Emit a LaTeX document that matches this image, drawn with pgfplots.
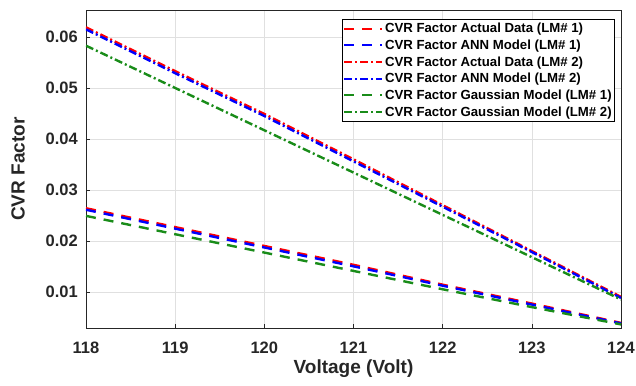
\documentclass[border=0pt]{standalone}
\usepackage{pgfplots}
\pgfplotsset{compat=1.18}
\usepackage{fontspec}
\setmainfont{Liberation Sans}
\definecolor{axgray}{rgb}{0.15,0.15,0.15}
\definecolor{gridgray}{rgb}{0.88,0.88,0.88}
\definecolor{mgreen}{rgb}{0.1,0.55,0.1}
\begin{document}
\begin{tikzpicture}
\path[use as bounding box] (-86pt,-57pt) rectangle (550pt,328pt);
\begin{axis}[
  scale only axis,
  width=535pt, height=318pt,
  xmin=118, xmax=124, ymin=0.0029, ymax=0.0653,
  xtick={118,119,120,121,122,123,124},
  ytick={0.01,0.02,0.03,0.04,0.05,0.06},
  grid=major,
  major grid style={gridgray, line width=0.6pt},
  axis line style={axgray, line width=0.8pt},
  tick style={axgray, line width=0.6pt},
  tick align=inside,
  xtick pos=bottom, ytick pos=left,
  major tick length=4pt,
  /pgf/number format/assume math mode=true,
  yticklabel={\pgfmathprintnumber[fixed, fixed zerofill, precision=2]{\tick}},
  xticklabel={\pgfmathprintnumber[fixed, precision=0]{\tick}},
  ticklabel style={font=\bfseries\fontsize{16.5}{18}\selectfont, text=axgray, inner sep=0pt},
  xticklabel style={yshift=-14pt},
  yticklabel style={xshift=-8pt},
  scaled y ticks=false,
  xlabel={Voltage (Volt)},
  ylabel={CVR Factor},
  label style={font=\bfseries\fontsize{19}{21}\selectfont, text=axgray, inner sep=0pt},
  xlabel style={at={(axis description cs:0.5,0)}, anchor=north, yshift=-31.5pt},
  ylabel style={at={(axis description cs:0,0.5)}, anchor=center, yshift=68pt},
  legend style={at={(axis description cs:0.9888,0.972)}, anchor=north east,
    font=\bfseries\fontsize{13.2}{15}\selectfont, draw=black, line width=0.6pt,
    inner xsep=1pt, inner ysep=2pt, row sep=1.6pt, cells={anchor=west}},
  legend image code/.code={\draw[#1, line width=2pt] (0pt,0pt) -- (38pt,0pt);},
  every axis plot/.append style={line width=2.4pt},
]
\addplot[red, dash pattern=on 10pt off 8pt] coordinates {(118,0.0264) (119,0.0227) (120,0.0190) (121,0.0153) (122,0.0114) (123,0.0077) (124,0.0039)};
\addlegendentry{CVR Factor Actual Data (LM\# 1)}
\addplot[blue, dash pattern=on 10pt off 8pt] coordinates {(118,0.0261) (119,0.0224) (120,0.0187) (121,0.0150) (122,0.0112) (123,0.0075) (124,0.0038)};
\addlegendentry{CVR Factor ANN Model (LM\# 1)}
\addplot[red, dash pattern=on 8pt off 3pt on 2pt off 3pt] coordinates {(118,0.0619) (119,0.0533) (120,0.0449) (121,0.0360) (122,0.0270) (123,0.0180) (124,0.0090)};
\addlegendentry{CVR Factor Actual Data (LM\# 2)}
\addplot[blue, dash pattern=on 8pt off 3pt on 2pt off 3pt] coordinates {(118,0.0615) (119,0.0529) (120,0.0445) (121,0.0356) (122,0.0267) (123,0.0178) (124,0.0088)};
\addlegendentry{CVR Factor ANN Model (LM\# 2)}
\addplot[mgreen, dash pattern=on 10pt off 8pt] coordinates {(118,0.0249) (119,0.0213) (120,0.0177) (121,0.0141) (122,0.0105) (123,0.0070) (124,0.0036)};
\addlegendentry{CVR Factor Gaussian Model (LM\# 1)}
\addplot[mgreen, dash pattern=on 8pt off 3pt on 2pt off 3pt] coordinates {(118,0.0583) (119,0.0500) (120,0.0417) (121,0.0334) (122,0.0251) (123,0.0168) (124,0.0085)};
\addlegendentry{CVR Factor Gaussian Model (LM\# 2)}
\end{axis}
\end{tikzpicture}
\end{document}
